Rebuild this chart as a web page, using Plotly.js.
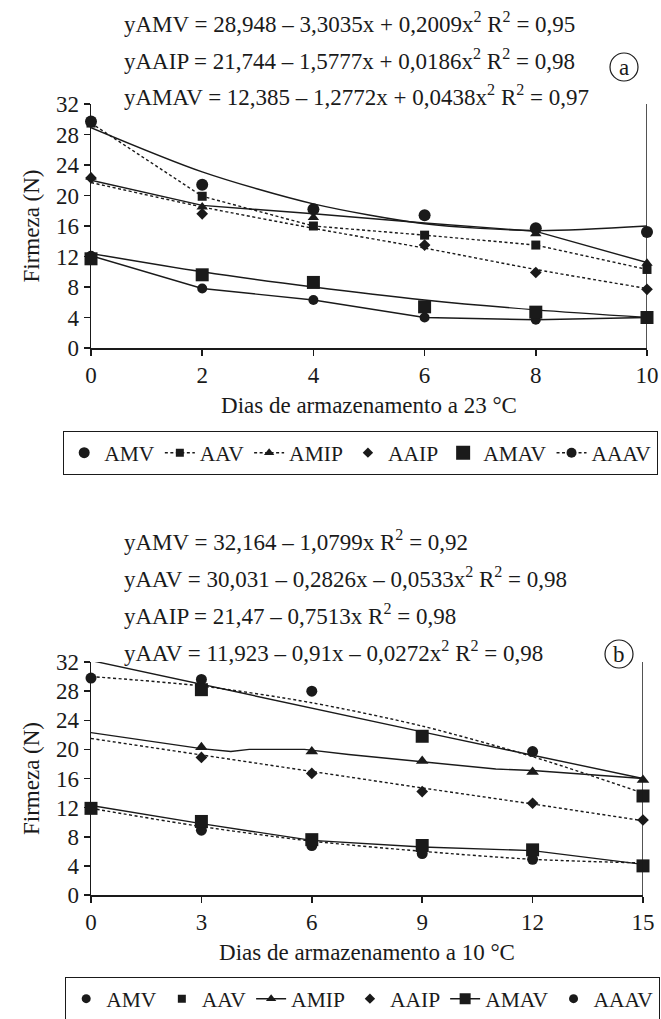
<!DOCTYPE html>
<html>
<head>
<meta charset="utf-8">
<script src="https://cdn.plot.ly/plotly-3.0.1.min.js"></script>
<style>html,body{margin:0;padding:0;background:#fff;}#chart{width:661px;height:1019px;}</style>
</head>
<body>
<div id="chart"></div>
<script>
// ---------- Data: chart (a), 23 °C ----------
var daysA   = [0, 2, 4, 6, 8, 10];
var amvA    = [29.7, 21.4, 18.2, 17.4, 15.7, 15.2];
var aavA    = [29.5, 19.9, 16.0, 14.8, 13.5, 10.3];
var amipA   = [22.4, 18.5, 17.1, null, 15.0, 11.1];
var aaipA   = [22.3, 17.6, null, 13.5, 9.9, 7.7];
var amavA   = [11.7, 9.6, 8.6, 5.4, 4.7, 4.0];
var aaavA   = [12.1, 7.8, 6.3, 4.0, 3.7, 4.0];
// curves drawn in (a)
var amvFitA   = [28.9, 23.1, 18.9, 16.3, 15.4, 16.0];
var aavLineA  = [29.5, 19.9, 16.0, 14.8, 13.5, 10.3];
var amipLineA = [22.0, 18.7, 17.6, 16.4, 15.3, 11.2];
var aaipFitA  = [21.7, 18.5, 15.7, 13.1, 10.3, 7.8];
var amavFitA  = [12.4, 10.0, 8.0, 6.3, 5.0, 4.0];
var eqA = [
  "yAMV = 28,948 – 3,3035x + 0,2009x<sup>2</sup> R<sup>2</sup> = 0,95",
  "yAAIP = 21,744 – 1,5777x + 0,0186x<sup>2</sup> R<sup>2</sup> = 0,98",
  "yAMAV = 12,385 – 1,2772x + 0,0438x<sup>2</sup> R<sup>2</sup> = 0,97"
];

// ---------- Data: chart (b), 10 °C ----------
var daysB   = [0, 3, 6, 9, 12, 15];
var amvB    = [29.8, 29.6, 28.0, null, 19.7, null];
var aavB    = [null, 28.2, null, 21.8, null, 13.6];
var amipB   = [null, 20.3, 19.7, 18.4, 16.9, 15.8];
var aaipB   = [null, 18.9, 16.7, 14.2, 12.6, 10.3];
var amavB   = [11.9, 10.1, 7.6, 6.8, 6.2, 4.0];
var aaavB   = [12.0, 8.9, 6.8, 5.7, 4.9, 4.0];
// curves drawn in (b)
var amvFitB    = [32.2, 28.9, 25.7, 22.4, 19.2, 16.0];
var aavFitB    = [30.0, 28.7, 26.4, 23.2, 19.0, 14.0];
var amipLineXB = [0, 3, 3.8, 4.3, 5.8, 7, 9, 11, 12, 15];
var amipLineYB = [22.3, 20.1, 19.7, 20.0, 20.0, 19.3, 18.3, 17.3, 17.1, 16.0];
var aaipFitB   = [21.5, 19.2, 17.0, 14.7, 12.5, 10.2];
var amavLineB  = [12.3, 9.8, 7.5, 6.6, 6.1, 4.2];
var aaavFitB   = [11.9, 9.4, 7.4, 6.0, 4.9, 4.4];
var eqB = [
  "yAMV = 32,164 – 1,0799x R<sup>2</sup> = 0,92",
  "yAAV = 30,031 – 0,2826x – 0,0533x<sup>2</sup> R<sup>2</sup> = 0,98",
  "yAAIP = 21,47 – 0,7513x R<sup>2</sup> = 0,98",
  "yAAV = 11,923 – 0,91x – 0,0272x<sup>2</sup> R<sup>2</sup> = 0,98"
];

var seriesNames = ["AMV", "AAV", "AMIP", "AAIP", "AMAV", "AAAV"];
var yTicks = [0, 4, 8, 12, 16, 20, 24, 28, 32];

// ---------- geometry helpers (layout, pixels -> paper) ----------
var W = 661, H = 1019;
function px(x){ return x / W; }
function py(y){ return 1 - y / H; }

var K = "#1a1a1a";
var FONT = "Liberation Serif, Times New Roman, serif";
var DOT = "3px,2.5px";
var TXT = 23;

function line(x, y, xa, ya, dash, shape){
  return {x: x, y: y, xaxis: xa, yaxis: ya, mode: "lines", type: "scatter",
    line: {color: K, width: 1.4, dash: dash || "solid", shape: shape || "linear", smoothing: 0.8},
    showlegend: false, hoverinfo: "skip", cliponaxis: false};
}
function pts(x, y, xa, ya, sym, size){
  return {x: x, y: y, xaxis: xa, yaxis: ya, mode: "markers", type: "scatter",
    marker: {color: K, symbol: sym, size: size, line: {width: 0}},
    showlegend: false, cliponaxis: false};
}
function leg(name, legend, sym, size, mode, dash){
  return {x: [null], y: [null], xaxis: legend === "legend" ? "x" : "x2", yaxis: legend === "legend" ? "y" : "y2",
    name: name, legend: legend, mode: mode, type: "scatter",
    marker: {color: K, symbol: sym, size: size},
    line: {color: K, width: 1.4, dash: dash || "solid"}, showlegend: true};
}

var traces = [
  // chart (a) curves
  line(daysA, amvFitA, "x", "y", "solid", "spline"),
  line(daysA, aavLineA, "x", "y", DOT),
  line(daysA, amipLineA, "x", "y"),
  line(daysA, aaipFitA, "x", "y", DOT, "spline"),
  line(daysA, amavFitA, "x", "y", "solid", "spline"),
  line(daysA, aaavA, "x", "y"),
  // chart (a) points
  pts(daysA, aaipA, "x", "y", "diamond", 9),
  pts(daysA, aavA, "x", "y", "square", 9),
  pts(daysA, amipA, "x", "y", "triangle-up", 10),
  pts(daysA, amvA, "x", "y", "circle", 12),
  pts(daysA, aaavA, "x", "y", "circle", 10),
  pts(daysA, amavA, "x", "y", "square", 13),
  // chart (b) curves
  line(daysB, amvFitB, "x2", "y2"),
  line(daysB, aavFitB, "x2", "y2", DOT, "spline"),
  line(amipLineXB, amipLineYB, "x2", "y2"),
  line(daysB, aaipFitB, "x2", "y2", DOT),
  line(daysB, amavLineB, "x2", "y2"),
  line(daysB, aaavFitB, "x2", "y2", DOT, "spline"),
  // chart (b) points
  pts(daysB, aaipB, "x2", "y2", "diamond", 9),
  pts(daysB, amipB, "x2", "y2", "triangle-up", 11),
  pts(daysB, amvB, "x2", "y2", "circle", 11),
  pts(daysB, aavB, "x2", "y2", "square", 13),
  pts(daysB, aaavB, "x2", "y2", "circle", 11),
  pts(daysB, amavB, "x2", "y2", "square", 13),
  // legend (a)
  leg(seriesNames[0], "legend", "circle", 11, "markers"),
  leg(seriesNames[1], "legend", "square", 8, "lines+markers", DOT),
  leg(seriesNames[2], "legend", "triangle-up", 9, "lines+markers", DOT),
  leg(seriesNames[3], "legend", "diamond", 8, "markers"),
  leg(seriesNames[4], "legend", "square", 14, "markers"),
  leg(seriesNames[5], "legend", "circle", 10, "lines+markers", DOT),
  // legend (b)
  leg(seriesNames[0], "legend2", "circle", 9, "markers"),
  leg(seriesNames[1], "legend2", "square", 8, "markers"),
  leg(seriesNames[2], "legend2", "triangle-up", 9, "lines+markers"),
  leg(seriesNames[3], "legend2", "diamond", 8, "markers"),
  leg(seriesNames[4], "legend2", "square", 11, "lines+markers"),
  leg(seriesNames[5], "legend2", "circle", 9, "markers")
];

function xAxis(domain, max, dtick, anchor, title){
  return {domain: domain, range: [0, max], dtick: dtick, tick0: 0, anchor: anchor,
    showline: true, linecolor: K, linewidth: 1.5, showgrid: false, zeroline: false,
    ticks: "outside", ticklen: 6, tickwidth: 1.5, tickcolor: K, automargin: false,
    tickfont: {family: FONT, size: TXT, color: K},
    title: {text: title, font: {family: FONT, size: TXT, color: K}, standoff: 10},
    fixedrange: true};
}
function yAxis(domain, anchor){
  return {domain: domain, range: [0, 32], tickvals: yTicks, anchor: anchor,
    showline: true, linecolor: K, linewidth: 1.5, showgrid: false, zeroline: false,
    ticks: "outside", ticklen: 6, tickwidth: 1.5, tickcolor: K, automargin: false,
    tickfont: {family: FONT, size: TXT, color: K},
    title: {text: "Firmeza (N)", font: {family: FONT, size: TXT, color: K}, standoff: 10},
    fixedrange: true};
}

var annotations = [];
var eqTopA = 22, eqTopB = 540, eqStep = 37;
eqA.forEach(function(t, i){
  annotations.push({xref: "paper", yref: "paper", x: px(122), y: py(eqTopA + i * eqStep),
    xanchor: "left", yanchor: "middle", text: t, showarrow: false,
    font: {family: FONT, size: 23, color: K}});
});
eqB.forEach(function(t, i){
  annotations.push({xref: "paper", yref: "paper", x: px(122), y: py(eqTopB + i * eqStep),
    xanchor: "left", yanchor: "middle", text: t, showarrow: false,
    font: {family: FONT, size: 23, color: K}});
});
annotations.push({xref: "paper", yref: "paper", x: px(624), y: py(67), text: "a", showarrow: false,
  xanchor: "center", yanchor: "middle", font: {family: FONT, size: TXT, color: K}});
annotations.push({xref: "paper", yref: "paper", x: px(619), y: py(654), text: "b", showarrow: false,
  xanchor: "center", yanchor: "middle", font: {family: FONT, size: TXT, color: K}});

var shapes = [
  {type: "circle", xref: "paper", yref: "paper", x0: px(610), x1: px(638), y0: py(53), y1: py(81),
   line: {color: K, width: 1.2}},
  {type: "circle", xref: "paper", yref: "paper", x0: px(605), x1: px(633), y0: py(640), y1: py(668),
   line: {color: K, width: 1.2}},
  // right-hand vertical rules
  {type: "line", xref: "x", yref: "y", x0: daysA[daysA.length-1], x1: daysA[daysA.length-1], y0: 0, y1: 34.0,
   line: {color: K, width: 1.5}},
  {type: "line", xref: "x2", yref: "y2", x0: daysB[daysB.length-1], x1: daysB[daysB.length-1], y0: 0, y1: 32.3,
   line: {color: K, width: 1.5}}
];

var legendBase = {orientation: "h", xanchor: "left", yanchor: "top",
  bgcolor: "rgba(255,255,255,0)", bordercolor: K, borderwidth: 1.2,
  font: {family: FONT, size: 21.5, color: K},
  itemwidth: 30, tracegroupgap: 0};

var layout = {
  width: W, height: H, margin: {l: 0, r: 0, t: 0, b: 0, autoexpand: false},
  paper_bgcolor: "#fff", plot_bgcolor: "#fff",
  font: {family: FONT, color: K},
  xaxis: xAxis([px(91), px(647)], 10, 2, "y", "Dias de armazenamento a 23 °C"),
  yaxis: yAxis([py(348), py(104)], "x"),
  xaxis2: xAxis([px(91), px(643)], 15, 3, "y2", "Dias de armazenamento a 10 °C"),
  yaxis2: yAxis([py(895), py(662)], "x2"),
  legend: Object.assign({}, legendBase, {x: px(63), y: py(431)}),
  legend2: Object.assign({}, legendBase, {x: px(65), y: py(977)}),
  annotations: annotations,
  shapes: shapes,
  showlegend: true
};

Plotly.newPlot("chart", traces, layout, {displayModeBar: false, staticPlot: true});
</script>
</body>
</html>
